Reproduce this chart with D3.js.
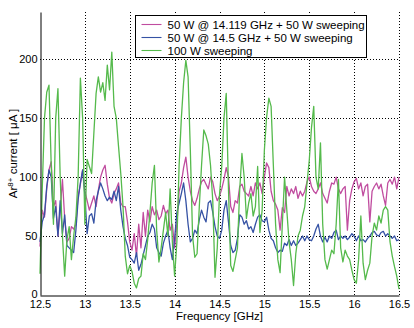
<!DOCTYPE html>
<html>
<head>
<meta charset="utf-8">
<script src="https://cdn.jsdelivr.net/npm/d3@7"></script>
<style>
  body { margin: 0; background: #fff; }
  svg { display: block; font-family: "Liberation Sans", Arial, Helvetica, sans-serif; }
</style>
</head>
<body>
<div id="chart"></div>
<script>
// frequency sweep, 12.5 .. 16.5 GHz in 0.025 GHz steps
const freqStart = 12.5;
const freqStep = 0.025;

// 50 W @ 14.119 GHz + 50 W sweeping
const magenta = [
  41, 72, 66, 90, 106, 113, 75, 80, 50, 72, 98, 65, 45, 48, 58, 56, 60, 84, 94, 106,
  88, 80, 72, 78, 84, 75, 89, 100, 106, 110, 94, 82, 78, 86, 90, 95, 78, 75, 75, 62, 45,
  38, 52, 33, 60, 40, 70, 50, 72, 62, 75, 68, 72, 64, 67, 76, 69, 72, 55, 60, 40,
  60, 88, 95, 108, 117, 100, 88, 80, 76, 82, 90, 96, 98, 94, 90, 100, 96, 86, 80, 84,
  90, 98, 108, 100, 75, 70, 80, 78, 92, 94, 88, 86, 84, 92, 84, 95, 90, 95, 86, 100,
  112, 108, 88, 80, 77, 72, 55, 74, 70, 92, 84, 90, 86, 92, 82, 88, 84, 88, 96, 100,
  92, 88, 86, 90, 95, 86, 82, 78, 88, 95, 94, 100, 90, 86, 90, 92, 55, 80, 90, 96,
  99, 90, 95, 84, 92, 94, 62, 88, 92, 95, 90, 94, 84, 76, 95, 98, 94, 100, 90, 100
];

// 50 W @ 14.5 GHz + 50 W sweeping
const blue = [
  45, 62, 68, 92, 106, 100, 65, 75, 50, 80, 52, 68, 42, 40, 38, 36, 55, 81, 95, 106,
  85, 52, 67, 69, 61, 80, 88, 95, 90, 84, 80, 83, 81, 88, 80, 92, 72, 58, 48, 42, 32,
  30, 27, 36, 21, 26, 34, 42, 50, 53, 60, 56, 40, 36, 33, 44, 50, 55, 40, 30, 48,
  70, 78, 86, 95, 80, 60, 45, 48, 55, 52, 64, 72, 66, 62, 78, 80, 70, 58, 50, 48,
  55, 72, 80, 62, 42, 36, 38, 48, 68, 66, 60, 63, 56, 58, 53, 60, 66, 68, 63, 62,
  66, 55, 48, 46, 40, 36, 38, 37, 44, 42, 47, 42, 46, 42, 44, 47, 50, 46, 50, 47,
  46, 50, 56, 60, 50, 45, 49, 45, 50, 48, 53, 55, 47, 50, 48, 50, 47, 49, 52, 50,
  46, 50, 46, 47, 45, 48, 50, 53, 54, 51, 50, 53, 54, 50, 52, 50, 48, 50, 46, 47
];

// 100 W sweeping
const green = [
  18, 90, 150, 172, 178, 110, 60, 150, 175, 100, 50, 16, 47, 58, 30, 50, 66, 100, 184, 150,
  60, 115, 109, 103, 137, 171, 185, 172, 180, 165, 195, 174, 206, 160, 150, 126, 103, 75, 33, 18, 25,
  20, 10, 6, 14, 16, 35, 30, 47, 70, 95, 110, 55, 28, 40, 55, 70, 50, 90, 45, 16,
  45, 110, 150, 180, 199, 185, 123, 50, 32, 35, 75, 110, 140, 135, 128, 110, 80, 15, 40, 85,
  109, 150, 171, 90, 25, 20, 30, 40, 89, 120, 100, 65, 78, 86, 67, 75, 109, 53, 72, 123,
  151, 167, 160, 110, 60, 30, 19, 60, 100, 72, 45, 30, 8, 35, 50, 55, 67, 75, 95, 114,
  142, 160, 100, 90, 129, 60, 30, 22, 30, 38, 35, 60, 98, 40, 28, 38, 33, 30, 21, 13,
  10, 30, 67, 27, 13, 21, 27, 50, 61, 55, 67, 61, 72, 75, 72, 45, 33, 24, 16, 5
];

const xTicks = [12.5, 13, 13.5, 14, 14.5, 15, 15.5, 16, 16.5];
const yTicks = [0, 50, 100, 150, 200];

const series = [
  { name: "50 W @ 14.119 GHz + 50 W sweeping", color: "#c04c9f", values: magenta },
  { name: "50 W @ 14.5 GHz + 50 W sweeping", color: "#3552a4", values: blue },
  { name: "100 W sweeping", color: "#55ba4c", values: green }
];

const width = 414, height = 328;
const margin = { top: 12, right: 15, bottom: 33, left: 40 };

const svg = d3.select("#chart").append("svg")
  .attr("width", width)
  .attr("height", height);

const x = d3.scaleLinear().domain([12.5, 16.5]).range([margin.left, width - margin.right]);
const y = d3.scaleLinear().domain([0, 240]).range([height - margin.bottom, margin.top]);

// grid
const grid = svg.append("g")
  .attr("stroke", "#000")
  .attr("stroke-width", 1)
  .attr("stroke-dasharray", "1,2");

grid.selectAll("line.vx")
  .data(xTicks.slice(1))
  .join("line")
  .attr("class", "vx")
  .attr("x1", d => Math.round(x(d)) + 0.5)
  .attr("x2", d => Math.round(x(d)) + 0.5)
  .attr("y1", y(0))
  .attr("y2", y(240));

grid.selectAll("line.hy")
  .data(yTicks.slice(1))
  .join("line")
  .attr("class", "hy")
  .attr("x1", x(12.5))
  .attr("x2", x(16.5))
  .attr("y1", d => Math.round(y(d)) + 0.5)
  .attr("y2", d => Math.round(y(d)) + 0.5);

// lines
const line = d3.line()
  .x((d, i) => x(freqStart + i * freqStep))
  .y(d => y(d));

svg.append("g")
  .selectAll("path")
  .data(series)
  .join("path")
  .attr("fill", "none")
  .attr("stroke", d => d.color)
  .attr("stroke-width", 1.3)
  .attr("stroke-linejoin", "round")
  .attr("d", d => line(d.values));

// axes
const xAxis = svg.append("g")
  .attr("transform", `translate(0,${Math.round(y(0)) + 0.5})`)
  .call(d3.axisBottom(x).tickValues(xTicks).tickSize(0).tickPadding(5).tickFormat(d3.format("")));
const yAxis = svg.append("g")
  .attr("transform", `translate(${Math.round(x(12.5)) + 0.5},0)`)
  .call(d3.axisLeft(y).tickValues(yTicks).tickSize(0).tickPadding(3));

[xAxis, yAxis].forEach(a => {
  a.select(".domain").attr("stroke", "#000").attr("stroke-width", 1);
  a.selectAll("text").attr("fill", "#000").style("font-size", "11px")
    .style("font-family", "'Liberation Sans', Arial, sans-serif");
});
// keep the "0" clear of the "12.5" below it
yAxis.selectAll(".tick text").filter(d => d === 0).attr("dy", "0.2em");

// axis titles
svg.append("text")
  .attr("x", (x(12.5) + x(16.5)) / 2)
  .attr("y", 320)
  .attr("text-anchor", "middle")
  .style("font-size", "11.5px")
  .text("Frequency [GHz]");

const yl = svg.append("text")
  .attr("transform", `translate(17,${y(120)}) rotate(-90)`)
  .attr("text-anchor", "middle")
  .style("font-size", "11.5px");
yl.append("tspan").text("Ar");
yl.append("tspan").attr("baseline-shift", "super").style("font-size", "8px").text("8+");
yl.append("tspan").text(" current [ μA ]");

// legend
const legend = svg.append("g").attr("transform", "translate(135.5,15.5)");
legend.append("rect")
  .attr("width", 231)
  .attr("height", 42)
  .attr("fill", "#fff")
  .attr("stroke", "#000");

const items = legend.selectAll("g.item")
  .data(series)
  .join("g")
  .attr("class", "item")
  .attr("transform", (d, i) => `translate(0,${9 + i * 13})`);
items.append("line")
  .attr("x1", 6).attr("x2", 26)
  .attr("stroke", d => d.color)
  .attr("stroke-width", 1.1);
items.append("text")
  .attr("x", 32)
  .attr("dy", "0.35em")
  .style("font-size", "11.5px")
  .text(d => d.name);
</script>
</body>
</html>
